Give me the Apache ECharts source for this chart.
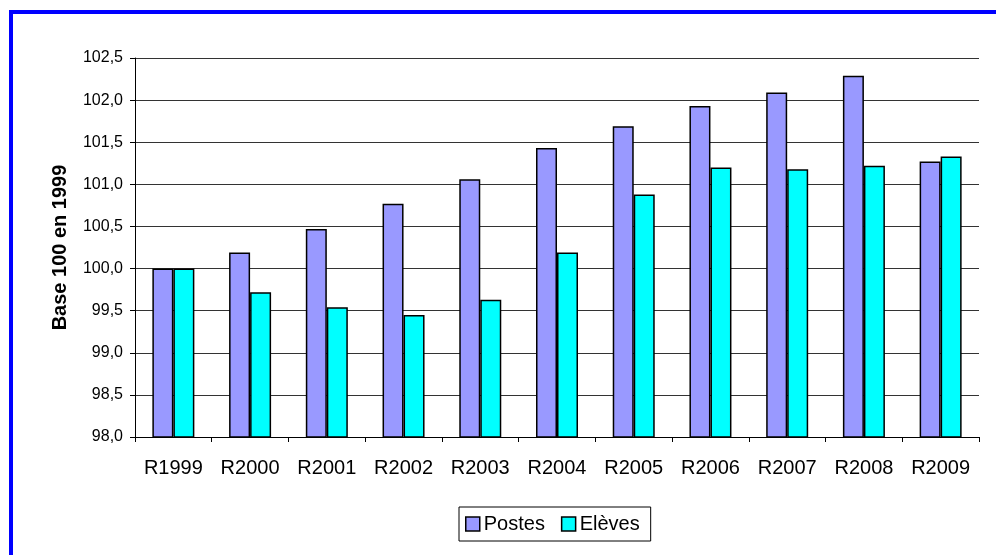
<!DOCTYPE html>
<html>
<head>
<meta charset="utf-8">
<script src="https://cdn.jsdelivr.net/npm/echarts@6/dist/echarts.min.js"></script>
<style>
  html, body { margin: 0; padding: 0; background: #fff; }
  #chart { width: 996px; height: 555px; }
</style>
</head>
<body>
<div id="chart"></div>
<script>
// Rentrées scolaires, indices base 100 en 1999
const categories = ['R1999', 'R2000', 'R2001', 'R2002', 'R2003', 'R2004', 'R2005', 'R2006', 'R2007', 'R2008', 'R2009'];
const postes = [100.0, 100.19, 100.47, 100.77, 101.06, 101.43, 101.69, 101.93, 102.09, 102.29, 101.27];
const eleves = [100.0, 99.72, 99.54, 99.45, 99.63, 100.19, 100.88, 101.20, 101.18, 101.22, 101.33];

const FONT = '"Liberation Sans", Arial, sans-serif';

const chart = echarts.init(document.getElementById('chart'), null, { renderer: 'canvas' });

const barStyle = (color) => ({
  color: color,
  borderColor: '#000',
  borderWidth: 1.5
});

chart.setOption({
  animation: false,
  backgroundColor: '#fff',
  textStyle: { fontFamily: FONT },
  graphic: [{
    type: 'rect',
    shape: { x: 11, y: 12, width: 1100, height: 1100 },
    style: { fill: 'none', stroke: '#0000FF', lineWidth: 4 },
    silent: true
  }],
  grid: { left: 135, right: 17, top: 58, bottom: 118, containLabel: false },
  legend: {
    data: ['Postes', 'Elèves'],
    left: 459,
    top: 507,
    itemWidth: 14,
    itemHeight: 14,
    itemGap: 16,
    icon: 'rect',
    borderColor: '#000',
    borderWidth: 1,
    padding: [7, 11, 7, 6],
    itemStyle: { borderColor: '#000', borderWidth: 1.5 },
    textStyle: { fontSize: 20, color: '#000', fontFamily: FONT, padding: [0, 0, 0, -1] }
  },
  xAxis: {
    type: 'category',
    data: categories,
    boundaryGap: true,
    axisLine: { lineStyle: { color: '#000', width: 1 } },
    axisTick: { show: true, length: 5, lineStyle: { color: '#000' } },
    axisLabel: { color: '#000', fontSize: 20, margin: 21, fontFamily: FONT }
  },
  yAxis: {
    type: 'value',
    min: 98,
    max: 102.5,
    interval: 0.5,
    name: 'Base 100 en 1999',
    nameLocation: 'middle',
    nameRotate: 90,
    nameGap: 65,
    nameTextStyle: { fontSize: 20, fontWeight: 'bold', color: '#000', fontFamily: FONT },
    axisLine: { show: true, lineStyle: { color: '#000', width: 1 } },
    axisTick: { show: true, length: 5, lineStyle: { color: '#000' } },
    axisLabel: {
      color: '#000', fontSize: 16, margin: 12, fontFamily: FONT,
      formatter: (v) => v.toFixed(1).replace('.', ',')
    },
    splitLine: { show: true, lineStyle: { color: '#333', width: 1 } }
  },
  series: [
    {
      name: 'Postes',
      type: 'bar',
      data: postes,
      barWidth: 21,
      barGap: '0%',
      itemStyle: barStyle('#9999FF')
    },
    {
      name: 'Elèves',
      type: 'bar',
      data: eleves,
      barWidth: 21,
      barGap: '0%',
      itemStyle: barStyle('#00FFFF')
    }
  ]
});
</script>
</body>
</html>
